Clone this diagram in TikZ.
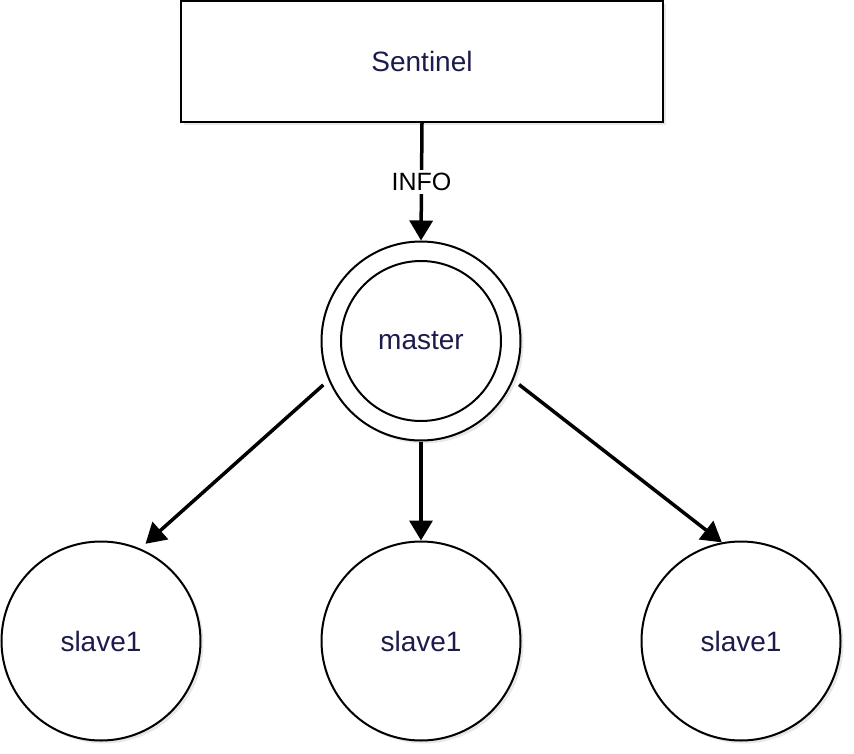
\documentclass[tikz,border=0pt]{standalone}
\usepackage{fontspec}
\setmainfont{Liberation Sans}
\usetikzlibrary{arrows.meta,shadows}
\definecolor{navy}{HTML}{1B1B4D}
\tikzset{
  shapebase/.style={draw=black, line width=2pt, fill=white, text=navy,
    font=\fontsize{28}{32}\selectfont,
    drop shadow={opacity=0.18, shadow xshift=3pt, shadow yshift=-3pt}},
  boxnode/.style={shapebase, rectangle, minimum width=482pt, minimum height=121pt, inner sep=0pt},
  circnode/.style={shapebase, circle, minimum size=199pt, inner sep=0pt},
  innercirc/.style={draw=black, line width=2pt, circle, minimum size=160pt, inner sep=0pt, text=navy,
    font=\fontsize{28}{32}\selectfont},
  arr/.style={line width=3.5pt, -{Triangle[width=23pt,length=20pt]}},
  lbl/.style={fill=white, font=\fontsize{25}{29}\selectfont, inner sep=3pt}
}
\begin{document}
\begin{tikzpicture}[x=1pt,y=-1pt]
\useasboundingbox (0,0) rectangle (854,754);
\node[boxnode] (sentinel) at (422,61.5) {Sentinel};
\node[circnode] (master) at (421,341) {};
\node[innercirc] (masterin) at (421,341) {master};
\node[circnode] (s1) at (101,641) {slave1};
\node[circnode] (s2) at (421,641) {slave1};
\node[circnode] (s3) at (741,641) {slave1};
\draw[arr] (sentinel.south) -- node[lbl] {INFO} (master.north);
\draw[arr] (master.south) -- (s2.north);
\draw[arr, shorten <=7pt, shorten >=7pt] (master.203) -- (s1.67);
\draw[arr, shorten <=7pt] (master.337) -- (s3.101);
\end{tikzpicture}
\end{document}
